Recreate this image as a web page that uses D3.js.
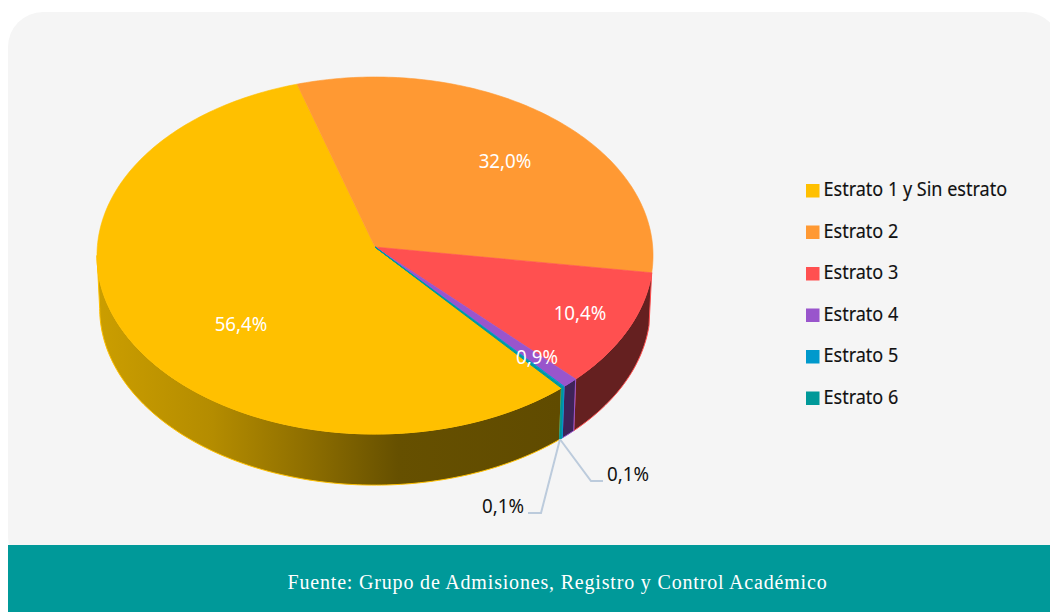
<!DOCTYPE html>
<html><head><meta charset="utf-8">
<script src="https://cdn.jsdelivr.net/npm/d3@7"></script>
<style>html,body{margin:0;padding:0;background:#fff;overflow:hidden}svg{display:block}
text{font-family:"Noto Sans","Open Sans",sans-serif}</style></head>
<body><svg id="c" width="1050" height="612"></svg>
<script>
const categories=["Estrato 1 y Sin estrato","Estrato 2","Estrato 3","Estrato 4","Estrato 5","Estrato 6"];
const values=[56.4,32.0,10.4,0.9,0.1,0.1];
const valueLabels=["56,4%","32,0%","10,4%","0,9%","0,1%","0,1%"];
const colors=["#ffc000","#ff9933","#ff5050","#9955cc","#0099cc","#009999"];
const wallColors=["url(#yw)",null,"#652020","#3e2358","#0088aa","#009090"];
const source="Fuente: Grupo de Admisiones, Registro y Control Académico";

const svg=d3.select("#c");
const defs=svg.append("defs");
const g=defs.append("linearGradient").attr("id","yw").attr("gradientUnits","userSpaceOnUse")
  .attr("x1",97).attr("x2",560).attr("y1",0).attr("y2",0);
[[0,"#cb9e00"],[0.25,"#b48c00"],[0.45,"#8f6f00"],[0.65,"#665000"],[1,"#604b00"]]
  .forEach(s=>g.append("stop").attr("offset",s[0]).attr("stop-color",s[1]));

svg.append("rect").attr("x",8).attr("y",12).attr("width",1052).attr("height",560).attr("rx",35).attr("fill","#f5f5f5");
svg.append("rect").attr("x",8).attr("y",545).attr("width",1042).attr("height",67).attr("fill","#009999");
svg.append("text").attr("x",557.5).attr("y",589).attr("text-anchor","middle").attr("fill","#fff")
  .style("font-family","'Liberation Serif',serif").style("font-size","20px").style("letter-spacing","0.82px").text(source);

// perspective projection of the pie's disc
const K=0.0476, topFace={x:375,y:247,a:277.7,b:178.1}, botFace={x:375,y:300,a:275,b:176.3};
const proj=(t,p)=>{const c=Math.cos(t),s=Math.sin(t),w=1+K*c;
  return [p.x+p.a*s/w,p.y-p.b*c/w];};
const start=139.7*Math.PI/180;
const leftTangent=2*Math.PI-Math.acos(-K);
const arcs=d3.pie().sort(null).value(d=>d).startAngle(start).endAngle(start+2*Math.PI)(values);
const line=d3.line();
const sampleRange=(a0,a1,p)=>{const n=Math.max(2,Math.ceil((a1-a0)*60));
  return d3.range(n+1).map(i=>proj(a0+(a1-a0)*i/n,p));};
const samples=(a,p)=>sampleRange(a.startAngle,a.endAngle,p);
// a wall that crosses the disc's left tangent is only visible up to it
const wallSamples=(a,p)=>sampleRange(a.startAngle,a.startAngle<leftTangent?Math.min(a.endAngle,leftTangent):a.endAngle,p);

// walls
svg.append("g").selectAll("path").data(arcs.filter(a=>wallColors[a.index])).join("path")
  .attr("d",a=>line(wallSamples(a,topFace).concat(wallSamples(a,botFace).reverse()))+"Z")
  .attr("fill",a=>wallColors[a.index])
  .attr("stroke",a=>colors[a.index]).attr("stroke-width",1).attr("stroke-linejoin","round");
// top face
svg.append("g").selectAll("path").data(arcs).join("path")
  .attr("d",a=>line([[topFace.x,topFace.y]].concat(samples(a,topFace)))+"Z")
  .attr("fill",a=>colors[a.index]).attr("stroke",a=>colors[a.index])
  .attr("stroke-width",a=>a.index>=4?1:0.6).attr("stroke-linejoin","round");

// leader lines
const anchor=proj(start-0.002,botFace);
const leaders=[[[541,513],[528,513]],[[591,481],[603,481]]];
svg.append("g").selectAll("path").data(leaders).join("path")
  .attr("d",l=>line([anchor].concat(l))).attr("fill","none").attr("stroke","#bccbdc").attr("stroke-width",2);

// value labels
const labelPos=[[241,324],[505,161],[580,313],[537,357],[503,506],[628,474]];
svg.append("g").selectAll("text").data(valueLabels).join("text")
  .attr("transform",(d,i)=>`translate(${labelPos[i][0]},${labelPos[i][1]+7}) scale(0.96,1)`)
  .attr("text-anchor","middle").attr("fill",(d,i)=>i>3?"#111":"#fff")
  .style("font-size","19.5px").text(d=>d);

// legend
const legY=d3.scalePoint().domain(categories).range([190.5,398]);
const leg=svg.append("g").selectAll("g").data(categories).join("g").attr("transform",d=>`translate(806,${legY(d)})`);
leg.append("rect").attr("x",0).attr("y",-6.5).attr("width",13.5).attr("height",13.5).attr("fill",(d,i)=>colors[i]);
leg.append("text").attr("transform","translate(17.5,5.5) scale(0.925,1)").attr("fill","#111")
  .style("font-size","19.5px").style("stroke","#111").style("stroke-width","0.15px").text(d=>d);
</script></body></html>
